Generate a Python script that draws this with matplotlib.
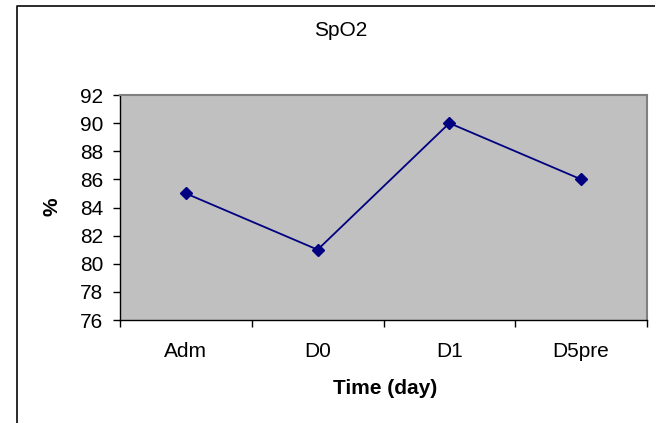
import matplotlib
matplotlib.use("Agg")
import matplotlib.pyplot as plt
from matplotlib.lines import Line2D

categories = ["Adm", "D0", "D1", "D5pre"]
spo2 = [85, 81, 90, 86]
yticks = [76, 78, 80, 82, 84, 86, 88, 90, 92]

plt.rcParams['font.family'] = ['Liberation Sans', 'DejaVu Sans']

W, H = 655, 423
FS = 15
fig = plt.figure(figsize=(W / 100, H / 100), dpi=100)
fig.patch.set_facecolor('white')

ax = fig.add_axes([120 / W, 1 - 320 / H, (647 - 120) / W, (320 - 95) / H])
ax.set_facecolor('#C0C0C0')

x = list(range(len(categories)))
ax.plot(x, spo2, color='#000080', linewidth=1.3, marker='D', markersize=6,
        markerfacecolor='#000080', markeredgecolor='#000080')

ax.set_xlim(-0.5, len(categories) - 0.5)
ax.set_ylim(yticks[0], yticks[-1])
ax.set_yticks(yticks)
ax.set_yticklabels([str(v) for v in yticks], fontsize=FS)
ax.tick_params(axis='y', direction='out', length=5, width=1, color='black', pad=7)

ax.set_xticks(x)
ax.set_xticklabels(categories, fontsize=FS)
ax.tick_params(axis='x', which='major', length=0, pad=16)
ax.set_xticks([i - 0.5 for i in range(len(categories) + 1)], minor=True)
ax.tick_params(axis='x', which='minor', direction='out', length=5, width=1, color='black')

for side in ['left', 'bottom']:
    ax.spines[side].set_color('black')
    ax.spines[side].set_linewidth(1)
for side in ['top', 'right']:
    ax.spines[side].set_color('#808080')
    ax.spines[side].set_linewidth(1.5)

fig.text(341 / W, 1 - 31 / H, "SpO2", ha='center', va='center', fontsize=FS)
fig.text(385 / W, 1 - 388 / H, "Time (day)", ha='center', va='center',
         fontsize=FS, fontweight='bold')
fig.text(52 / W, 1 - 207 / H, "%", ha='center', va='center', rotation=90,
         fontsize=FS, fontweight='bold')

# outer chart border (cropped at right and bottom)
fig.add_artist(Line2D([16.5 / W, 16.5 / W, 1.02], [-0.02, 1 - 6.5 / H, 1 - 6.5 / H],
                      transform=fig.transFigure, color='#1a1a1a', linewidth=1.3))

fig.savefig("out.png", dpi=100)
